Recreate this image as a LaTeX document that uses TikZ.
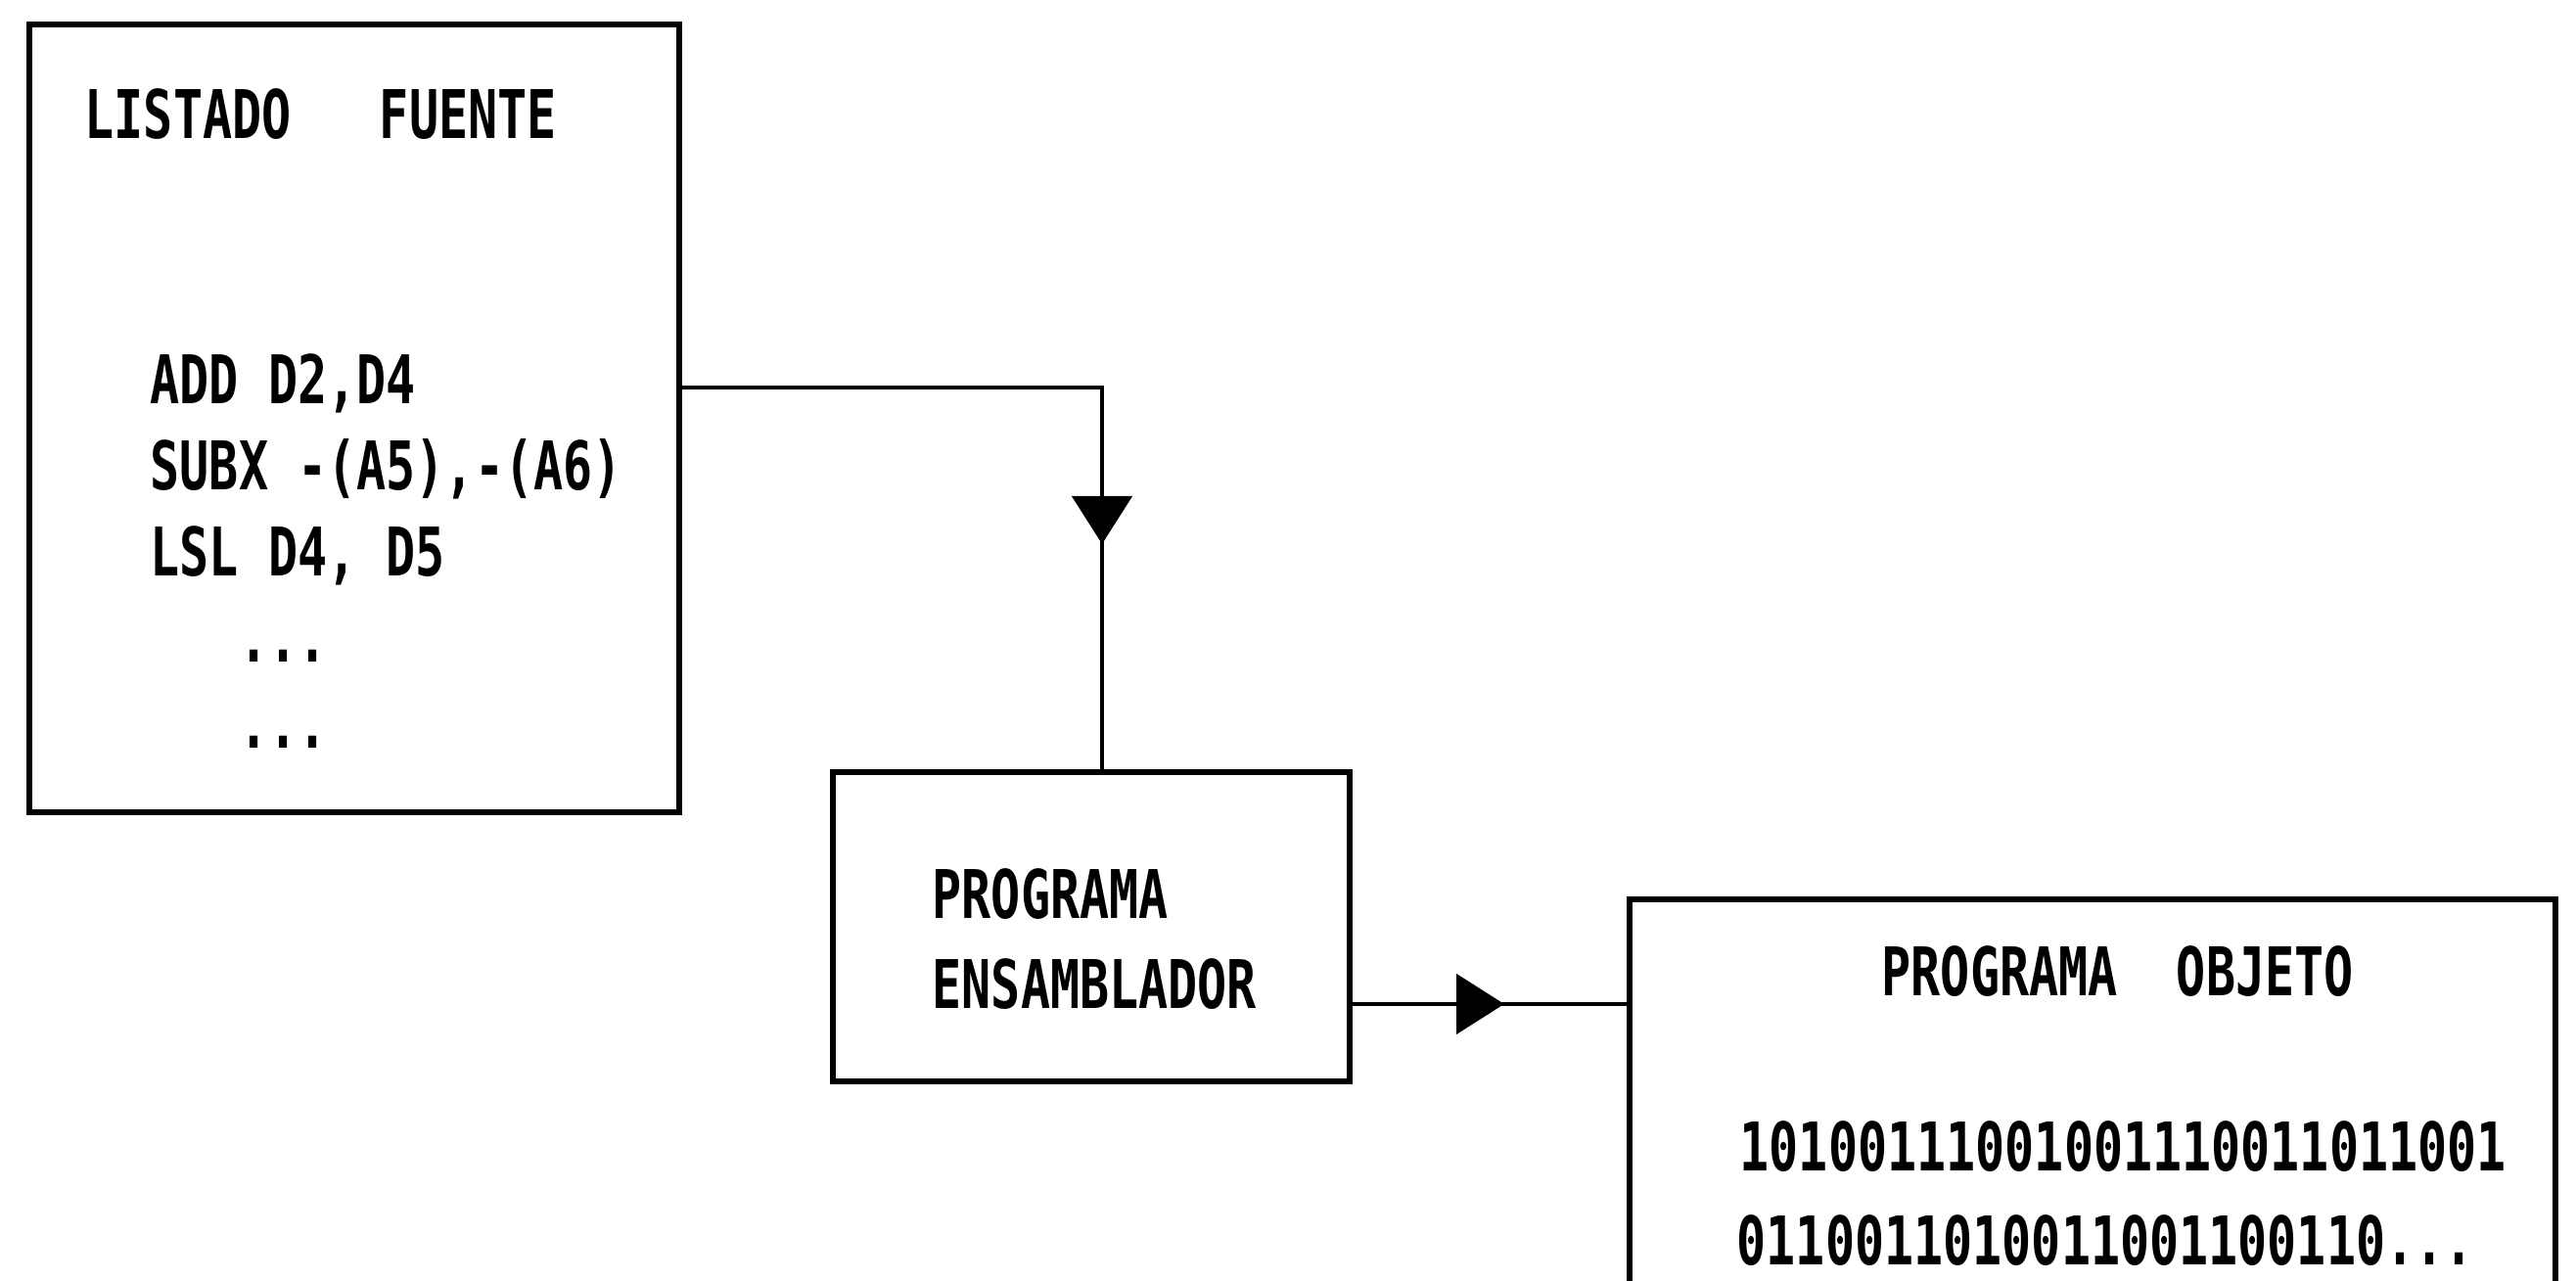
\documentclass[tikz,border=0pt]{standalone}
\usepackage{fontspec}
\newfontfamily\printfont{DejaVu Sans Mono}[FakeStretch=0.73]
\usetikzlibrary{arrows.meta,positioning,decorations.markings}

\tikzset{
  block/.style={draw, rectangle, line width=1.7pt, inner sep=0pt},
  printtext/.style={anchor=base west, inner sep=0pt,
    font={\fontsize{19.5}{23}\printfont\bfseries}},
  link/.style={line width=1.4pt},
  midarrow/.style={decoration={markings,
      mark=at position #1 with {\arrow{Triangle[width=0.61cm,length=0.49cm]}}},
    postaction={decorate}},
}

\begin{document}
\begin{tikzpicture}
    \clip (0,0) rectangle (26.32,13.09);

    % Boxes
    \node[block, minimum width=6.64cm, minimum height=8.05cm] (fuente) at (3.62,8.815) {};
    \node[block, minimum width=5.28cm, minimum height=3.16cm] (ensamblador) at (11.15,3.62) {};
    \node[block, minimum width=9.46cm, minimum height=4.6cm] (objeto) at (21.38,1.6) {};

    % Source listing
    \node[printtext] (fuente-title) at (0.86,11.67) {LISTADO\ \ \ FUENTE};
    \foreach \codeline [count=\i] in {{ADD D2,D4},{SUBX -(A5),-(A6)},{LSL D4, D5}}
        \node[printtext] (code-\i) at (1.53,{8.96-0.88*(\i-1)}) {\codeline};
    \foreach \i in {4,5}
        \node[printtext] (code-\i) at (1.53,{8.96-0.88*(\i-1)}) {\ \ \ ...};

    % Assembler
    \node[printtext] (ens-1) at (9.52,3.70) {PROGRAMA};
    \node[printtext] (ens-2) at (9.52,2.78) {ENSAMBLADOR};

    % Object program
    \node[printtext] (obj-title) at (19.22,2.91) {PROGRAMA\ \ OBJETO};
    \node[printtext] (obj-1) at (17.77,1.12) {10100111001001110011011001};
    \node[printtext] (obj-2) at (17.74,0.16) {0110011010011001100110...};

    % Connectors
    \coordinate (bend) at (11.26,9.13);
    \coordinate (feed) at (15.0,2.83);
    \draw[link, midarrow=5.89cm] (fuente.east |- bend) -- (bend) -- (ensamblador.north -| bend);
    \draw[link, midarrow=1.55cm] (ensamblador.east |- feed) -- (objeto.west |- feed);
\end{tikzpicture}
\end{document}
